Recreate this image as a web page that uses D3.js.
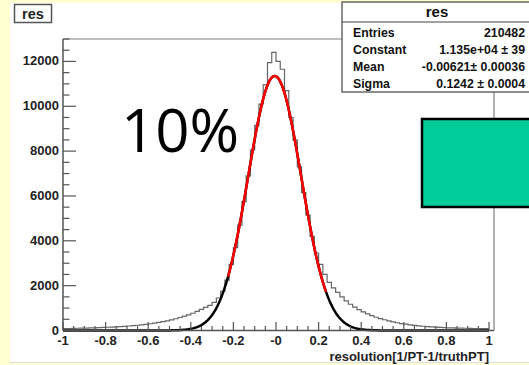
<!DOCTYPE html>
<html>
<head>
<meta charset="utf-8">
<script src="https://cdn.jsdelivr.net/npm/d3@7/dist/d3.min.js"></script>
<style>
  body { margin: 0; background: #ffffd2; }
  svg { display: block; }
  .tick-label { font-family: 'Liberation Sans', Arial, sans-serif; font-weight: bold; font-size: 13px; fill: #222; }
  .stat { font-family: 'Liberation Sans', Arial, sans-serif; font-weight: bold; font-size: 12.3px; fill: #111; }
</style>
</head>
<body>
<svg id="svg1" width="529" height="365"></svg>
<script>
// histogram: 100 bins from -1 to 1 (bin width 0.02), counts
const binEdgesStart = -1;
const binWidth = 0.02;
const binCounts = [
  80, 90, 95, 100, 105, 110, 115, 120, 125, 135,
  145, 150, 160, 170, 185, 200, 215, 235, 255, 275,
  300, 330, 360, 395, 430, 475, 525, 580, 640, 700,
  770, 850, 940, 1030, 1120, 1250, 1450, 1750, 2250, 2950,
  3700, 4700, 5750, 6900, 8050, 9150, 10100, 10950, 11950, 12400,
  12000, 11650, 10700, 9500, 8500, 7300, 6150, 5150, 4200, 3450,
  2950, 2500, 2150, 1900, 1700, 1500, 1320, 1170, 1040, 930,
  830, 740, 660, 590, 530, 480, 430, 385, 345, 310,
  280, 255, 230, 210, 190, 175, 160, 150, 140, 130,
  120, 115, 110, 105, 100, 95, 90, 88, 85, 80
];

// gaussian fit parameters (from stats box) and fit range
const fitConstant = 11350;
const fitMean = -0.00621;
const fitSigma = 0.1242;
const fitRange = [-0.225, 0.237];

const xTickValues = [-1, -0.8, -0.6, -0.4, -0.2, 0, 0.2, 0.4, 0.6, 0.8, 1];
const xTickLabels = ['-1', '-0.8', '-0.6', '-0.4', '-0.2', '-0', '0.2', '0.4', '0.6', '0.8', '1'];
const yTickValues = [0, 2000, 4000, 6000, 8000, 10000, 12000];

const statNames = ['Entries', 'Constant', 'Mean', 'Sigma'];
const statValues = ['210482', '1.135e+04 \u00b1 39', '-0.00621\u00b1 0.00036', '0.1242 \u00b1 0.0004'];

const svg = d3.select('#svg1');

// pad (white) on yellow page
svg.append('rect').attr('x', 10).attr('y', 3).attr('width', 519).attr('height', 359)
  .attr('fill', '#fff');
svg.append('line').attr('x1', 10).attr('x2', 529).attr('y1', 362.5).attr('y2', 362.5)
  .attr('stroke', '#ddd');

const x = d3.scaleLinear().domain([-1, 1]).range([63, 489]);
const y = d3.scaleLinear().domain([0, 13000]).range([330.5, 39]);

// frame
svg.append('line').attr('x1', 63).attr('x2', 342).attr('y1', 39).attr('y2', 39)
  .attr('stroke', '#aaa').attr('stroke-width', 1.5);
svg.append('line').attr('x1', 494).attr('x2', 494).attr('y1', 39).attr('y2', 330.5)
  .attr('stroke', '#999').attr('stroke-width', 1.5);

// histogram outline
const histPoints = binCounts.map((c, i) => [binEdgesStart + i * binWidth, c]);
histPoints.push([1, binCounts[binCounts.length - 1]]);
const histLine = d3.line()
  .x(d => x(d[0]))
  .y(d => y(d[1]))
  .curve(d3.curveStepAfter);
svg.append('path').datum(histPoints)
  .attr('d', histLine)
  .attr('fill', 'none')
  .attr('stroke', '#666')
  .attr('stroke-width', 1.2);

// fit function
const gaus = v => fitConstant * Math.exp(-0.5 * Math.pow((v - fitMean) / fitSigma, 2));
const fitLine = d3.line().x(d => x(d)).y(d => y(gaus(d))).curve(d3.curveLinear);
svg.append('path').datum(d3.range(-1, 1.0001, 0.005))
  .attr('d', fitLine)
  .attr('fill', 'none').attr('stroke', '#000').attr('stroke-width', 2.5);
svg.append('path').datum(d3.range(fitRange[0], fitRange[1] + 0.0001, 0.0025))
  .attr('d', fitLine)
  .attr('fill', 'none').attr('stroke', '#f00').attr('stroke-width', 2.5);

// axes (ROOT style: ticks inward)
const axisColor = '#555';
svg.append('line').attr('x1', 63).attr('x2', 63).attr('y1', 39).attr('y2', 330.5)
  .attr('stroke', axisColor).attr('stroke-width', 1.5);
svg.append('line').attr('x1', 63).attr('x2', 494).attr('y1', 330.5).attr('y2', 330.5)
  .attr('stroke', axisColor).attr('stroke-width', 1.5);

const yMinor = d3.range(0, 13001, 500);
svg.selectAll('.ytick').data(yMinor).enter().append('line')
  .attr('x1', 63)
  .attr('x2', d => 63 + (d % 2000 === 0 ? 13 : 6.5))
  .attr('y1', d => y(d)).attr('y2', d => y(d))
  .attr('stroke', axisColor).attr('stroke-width', 1.2);
svg.selectAll('.ylab').data(yTickValues).enter().append('text')
  .attr('class', 'tick-label')
  .attr('x', 59).attr('y', d => y(d) + 4)
  .attr('text-anchor', 'end')
  .text(d => d);

const xMinor = d3.range(0, 41).map(i => -1 + i * 0.05);
svg.selectAll('.xtick').data(xMinor).enter().append('line')
  .attr('x1', d => x(d)).attr('x2', d => x(d))
  .attr('y1', 330.5)
  .attr('y2', (d, i) => 330.5 - (i % 4 === 0 ? 8.5 : 4.5))
  .attr('stroke', axisColor).attr('stroke-width', 1.2);
svg.selectAll('.xlab').data(xTickValues).enter().append('text')
  .attr('class', 'tick-label')
  .attr('x', d => x(d)).attr('y', 345)
  .attr('text-anchor', 'middle')
  .text((d, i) => xTickLabels[i]);
svg.append('text').attr('class', 'tick-label')
  .attr('x', 489).attr('y', 360.5)
  .attr('text-anchor', 'end')
  .text('resolution[1/PT-1/truthPT]');

// title box
svg.append('rect').attr('x', 14.5).attr('y', 4.5).attr('width', 37).attr('height', 18)
  .attr('fill', '#fff').attr('stroke', '#555').attr('stroke-width', 1.5);
svg.append('text').attr('class', 'tick-label')
  .attr('x', 33).attr('y', 18.5).attr('text-anchor', 'middle')
  .style('font-size', '14.5px')
  .text('res');

// stats box
svg.append('rect').attr('x', 342).attr('y', 2).attr('width', 200).attr('height', 90)
  .attr('fill', '#fff').attr('stroke', '#444').attr('stroke-width', 1.2);
svg.append('line').attr('x1', 342).attr('x2', 529).attr('y1', 22).attr('y2', 22)
  .attr('stroke', '#444').attr('stroke-width', 1);
svg.append('text').attr('class', 'stat')
  .attr('x', 437).attr('y', 17).attr('text-anchor', 'middle')
  .style('font-size', '15px')
  .text('res');
statNames.forEach((n, i) => {
  svg.append('text').attr('class', 'stat')
    .attr('x', 353).attr('y', 36.5 + i * 17).text(n);
  svg.append('text').attr('class', 'stat')
    .attr('x', 525).attr('y', 36.5 + i * 17).attr('text-anchor', 'end')
    .text(statValues[i]);
});

// annotation
svg.append('text')
  .attr('x', 121).attr('y', 152)
  .style('font-family', "'Open Sans', sans-serif")
  .style('font-size', '60px')
  .attr('fill', '#000')
  .text('10%');

svg.append('rect').attr('x', 422).attr('y', 119).attr('width', 120).attr('height', 88)
  .attr('fill', '#00cc99').attr('stroke', '#000').attr('stroke-width', 2.5);
</script>
</body>
</html>
